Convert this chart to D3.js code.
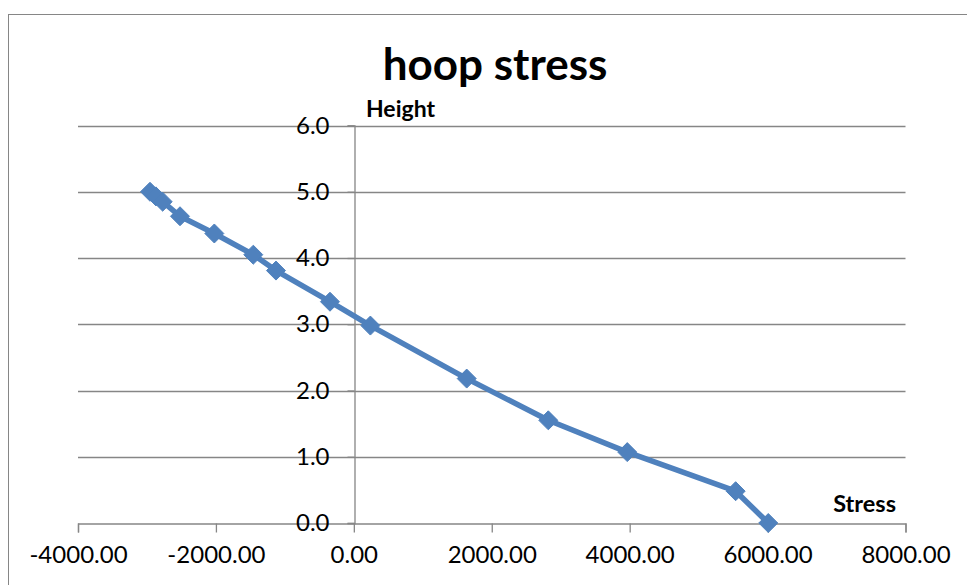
<!DOCTYPE html>
<html>
<head>
<meta charset="utf-8">
<script src="https://cdn.jsdelivr.net/npm/d3@7"></script>
<style>
  html, body { margin: 0; padding: 0; background: #fff; }
  svg { display: block; }
  text { font-family: Lato, "Open Sans", sans-serif; fill: #000; }
</style>
</head>
<body>
<svg id="chart" width="967" height="585"></svg>
<script>
// ---- data ----
const stress = [-2956, -2870, -2772, -2521, -2023, -1458, -1129, -346, 240, 1637, 2820, 3965, 5537, 6010];
const height = [5.00, 4.93, 4.85, 4.63, 4.37, 4.05, 3.81, 3.34, 2.98, 2.18, 1.55, 1.07, 0.48, 0.00];
const xTicks = [-4000, -2000, 0, 2000, 4000, 6000, 8000];
const yTicks = [0, 1, 2, 3, 4, 5, 6];
const title = "hoop stress";
const xTitle = "Stress";
const yTitle = "Height";

const points = stress.map((s, i) => ({ x: s, y: height[i] }));

const svg = d3.select("#chart");
const gray = "#868686";
const blue = "#4F81BD";

// chart border
svg.append("rect")
  .attr("x", 8.5).attr("y", 14.5)
  .attr("width", 1000).attr("height", 1000)
  .attr("fill", "none").attr("stroke", gray).attr("stroke-width", 1);

const x = d3.scaleLinear().domain([-4000, 8000]).range([78, 905.5]);
const y = d3.scaleLinear().domain([0, 6]).range([523, 125.5]);

const fmtX = d => d.toFixed(2);
const fmtY = d => d.toFixed(1);

// horizontal gridlines
svg.append("g").selectAll("line").data(yTicks.filter(d => d > 0)).join("line")
  .attr("x1", x(-4000)).attr("x2", x(8000))
  .attr("y1", d => Math.round(y(d)) + 0.5).attr("y2", d => Math.round(y(d)) + 0.5)
  .attr("stroke", gray).attr("stroke-width", 1.3);

// x axis (crosses at y=0)
const xAxis = d3.axisBottom(x).tickValues(xTicks).tickSize(9).tickPadding(13)
  .tickFormat(fmtX);
const gx = svg.append("g")
  .attr("transform", `translate(0,${Math.round(y(0)) + 0.5})`)
  .call(xAxis);
gx.select(".domain").attr("stroke", gray).attr("stroke-width", 1.3);
gx.selectAll(".tick line").attr("stroke", gray).attr("stroke-width", 1.3);
gx.selectAll(".tick text")
  .style("font-family", "Lato, sans-serif").style("font-size", "24px").attr("fill", "#000");

// y axis (crosses at x=0)
const yAxis = d3.axisLeft(y).tickValues(yTicks).tickSize(7).tickPadding(18)
  .tickFormat(fmtY);
const gy = svg.append("g")
  .attr("transform", `translate(${Math.round(x(0)) + 0.5},0)`)
  .call(yAxis);
gy.select(".domain").attr("stroke", gray).attr("stroke-width", 1.3);
gy.selectAll(".tick line").attr("stroke", gray).attr("stroke-width", 1.3);
gy.selectAll(".tick text")
  .style("font-family", "Lato, sans-serif").style("font-size", "24px").attr("fill", "#000");

// series line
svg.append("path")
  .datum(points)
  .attr("fill", "none")
  .attr("stroke", blue)
  .attr("stroke-width", 5.5)
  .attr("stroke-linejoin", "round")
  .attr("d", d3.line().x(d => x(d.x)).y(d => y(d.y)));

// diamond markers
const sym = d3.symbol().type(d3.symbolDiamond2).size(230);
svg.append("g").selectAll("path").data(points).join("path")
  .attr("transform", d => `translate(${x(d.x)},${y(d.y)})`)
  .attr("d", sym)
  .attr("fill", blue)
  .attr("stroke", blue).attr("stroke-width", 1);

// titles
svg.append("text")
  .attr("x", 495).attr("y", 80)
  .attr("text-anchor", "middle")
  .style("font-size", "44px").style("font-weight", "bold")
  .text(title);

svg.append("text")
  .attr("x", 366).attr("y", 117)
  .style("font-size", "23px").style("font-weight", "bold")
  .text(yTitle);

svg.append("text")
  .attr("x", 896).attr("y", 512)
  .attr("text-anchor", "end")
  .style("font-size", "23.5px").style("font-weight", "bold")
  .text(xTitle);
</script>
</body>
</html>
